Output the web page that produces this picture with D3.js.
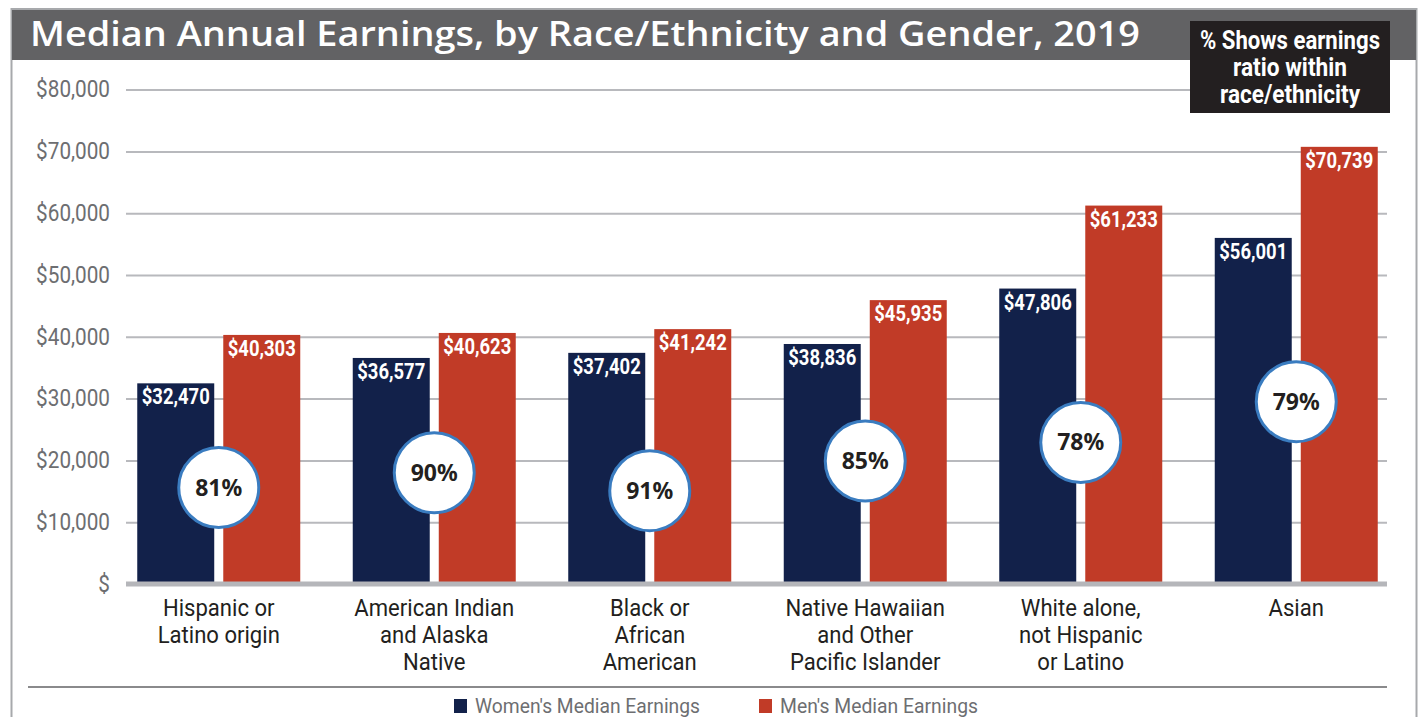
<!DOCTYPE html>
<html lang="en">
<head>
<meta charset="utf-8">
<title>Median Annual Earnings, by Race/Ethnicity and Gender, 2019</title>
<script src="https://cdnjs.cloudflare.com/ajax/libs/d3/7.8.5/d3.min.js"></script>
<style>
  body { margin: 0; background: #fff; }
  svg { display: block; }
  .grid line { stroke: #b8b9bd; stroke-width: 2; }
  .val { font-family: Roboto, sans-serif; font-weight: 700; font-size: 22px; fill: #fff; text-anchor: middle; }
  .cat { font-family: Roboto, sans-serif; font-size: 24px; fill: #231f20; text-anchor: middle; }
  .pct { font-family: "Noto Sans", sans-serif; font-weight: 700; font-size: 23px; fill: #231f20; text-anchor: middle; }
  .legend { font-family: Roboto, sans-serif; font-size: 20px; fill: #6d6e71; }
  .note { font-family: Roboto, sans-serif; font-weight: 700; font-size: 25px; fill: #fff; text-anchor: middle; }
</style>
</head>
<body>
<svg width="1420" height="717"></svg>
<script>
// data
var categories = [
  "Hispanic or\nLatino origin",
  "American Indian\nand Alaska\nNative",
  "Black or\nAfrican\nAmerican",
  "Native Hawaiian\nand Other\nPacific Islander",
  "White alone,\nnot Hispanic\nor Latino",
  "Asian"
];
var women = [32470, 36577, 37402, 38836, 47806, 56001];
var men = [40303, 40623, 41242, 45935, 61233, 70739];
var ratios = [81, 90, 91, 85, 78, 79];
// height (in dollars) where each ratio badge sits
var badgeLevel = [15600, 18000, 15100, 19900, 22900, 29500];
var yTicks = [0, 10000, 20000, 30000, 40000, 50000, 60000, 70000, 80000];
var seriesNames = ["Women's Median Earnings", "Men's Median Earnings"];
var colors = ["#12214a", "#c13b27"];

var svg = d3.select("svg");

// squeeze text horizontally (the original uses a condensed face)
function squeeze(sel, k) {
  sel.each(function() {
    var w = this.getComputedTextLength();
    d3.select(this).attr("textLength", w * k).attr("lengthAdjust", "spacingAndGlyphs");
  });
}

// frame + title bar
svg.append("rect").attr("x", 11.5).attr("y", 9).attr("width", 1405).attr("height", 720)
  .attr("fill", "none").attr("stroke", "#a7a9ac").attr("stroke-width", 2);
svg.append("rect").attr("x", 12).attr("y", 10).attr("width", 1404).attr("height", 50).attr("fill", "#626264");
svg.append("text").attr("x", 30).attr("y", 46)
  .style("font-family", "'Open Sans', sans-serif").style("font-weight", 600).style("font-size", "34px")
  .attr("fill", "#fff").attr("textLength", 1110).attr("lengthAdjust", "spacingAndGlyphs")
  .text("Median Annual Earnings, by Race/Ethnicity and Gender, 2019");

var x0 = d3.scaleBand().domain(categories).range([111, 1404]);
var x1 = d3.scaleBand().domain([0, 1]).range([-81.5, 81.5]).paddingInner(0.105);
var y = d3.scaleLinear().domain([0, 80000]).range([584, 89.6]);

var gridLeft = 126, gridRight = 1387;

var grid = svg.append("g").attr("class", "grid")
  .attr("transform", "translate(" + gridLeft + ",0)")
  .call(d3.axisLeft(y).tickValues(yTicks).tickSize(-(gridRight - gridLeft)).tickPadding(16)
    .tickFormat(function(d) { return d ? d3.format("$,")(d) : "$"; }));
grid.select(".domain").remove();
grid.selectAll("text").attr("font-family", "Roboto, sans-serif").attr("font-size", 23).attr("fill", "#6d6e71");
grid.call(function(g) { squeeze(g.selectAll("text"), 0.9); });

function center(i) { return x0(categories[i]) + x0.bandwidth() / 2; }

var rows = [];
categories.forEach(function(c, i) {
  rows.push({ i: i, s: 0, v: women[i] });
  rows.push({ i: i, s: 1, v: men[i] });
});

svg.append("g").selectAll("rect").data(rows).enter().append("rect")
  .attr("x", function(d) { return center(d.i) + x1(d.s); })
  .attr("y", function(d) { return y(d.v); })
  .attr("width", x1.bandwidth())
  .attr("height", function(d) { return y(0) - y(d.v); })
  .attr("fill", function(d) { return colors[d.s]; });

svg.append("line").attr("x1", gridLeft).attr("x2", gridRight).attr("y1", y(0)).attr("y2", y(0))
  .attr("stroke", "#b5b6ba").attr("stroke-width", 5);

svg.append("g").selectAll("text").data(rows).enter().append("text")
  .attr("class", "val")
  .attr("x", function(d) { return center(d.i) + x1(d.s) + x1.bandwidth() / 2; })
  .attr("y", function(d) { return y(d.v) + 21; })
  .attr("textLength", 68).attr("lengthAdjust", "spacingAndGlyphs")
  .text(function(d) { return d3.format("$,")(d.v); });

// ratio badges
var badges = svg.append("g").selectAll("g").data(ratios).enter().append("g")
  .attr("transform", function(d, i) { return "translate(" + center(i) + "," + y(badgeLevel[i]) + ")"; });
badges.append("circle").attr("r", 40).attr("fill", "#fff").attr("stroke", "#3a7cc0").attr("stroke-width", 3);
badges.append("text").attr("class", "pct").attr("y", 8).text(function(d) { return d + "%"; });

// category labels
var cats = svg.append("g").selectAll("text").data(categories).enter().append("text")
  .attr("class", "cat")
  .attr("x", function(d, i) { return center(i); });
cats.each(function(d, i) {
  var t = d3.select(this);
  d.split("\n").forEach(function(line, k) {
    t.append("tspan").attr("x", center(i)).attr("y", 616 + k * 27).text(line);
  });
});
cats.selectAll("tspan").call(function(s) { squeeze(s, 0.92); });

// separator + legend
svg.append("line").attr("x1", 28).attr("x2", gridRight).attr("y1", 687).attr("y2", 687)
  .attr("stroke", "#8a8a8c").attr("stroke-width", 2);
var legendX = [454, 759], legendW = [225, 198];
var leg = svg.append("g").selectAll("g").data(seriesNames).enter().append("g")
  .attr("transform", function(d, i) { return "translate(" + legendX[i] + ",0)"; });
leg.append("rect").attr("y", 699).attr("width", 13).attr("height", 14)
  .attr("fill", function(d, i) { return colors[i]; });
leg.append("text").attr("class", "legend").attr("x", 21).attr("y", 713)
  .attr("textLength", function(d, i) { return legendW[i]; }).attr("lengthAdjust", "spacingAndGlyphs")
  .text(function(d) { return d; });

// note box
var noteLines = ["% Shows earnings", "ratio within", "race/ethnicity"], noteW = [180, 114, 140];
svg.append("rect").attr("x", 1190).attr("y", 21).attr("width", 200).attr("height", 92).attr("fill", "#231f20");
svg.append("g").selectAll("text").data(noteLines).enter().append("text")
  .attr("class", "note").attr("x", 1290).attr("y", function(d, i) { return 49 + i * 27; })
  .attr("textLength", function(d, i) { return noteW[i]; }).attr("lengthAdjust", "spacingAndGlyphs")
  .text(function(d) { return d; });
</script>
</body>
</html>
